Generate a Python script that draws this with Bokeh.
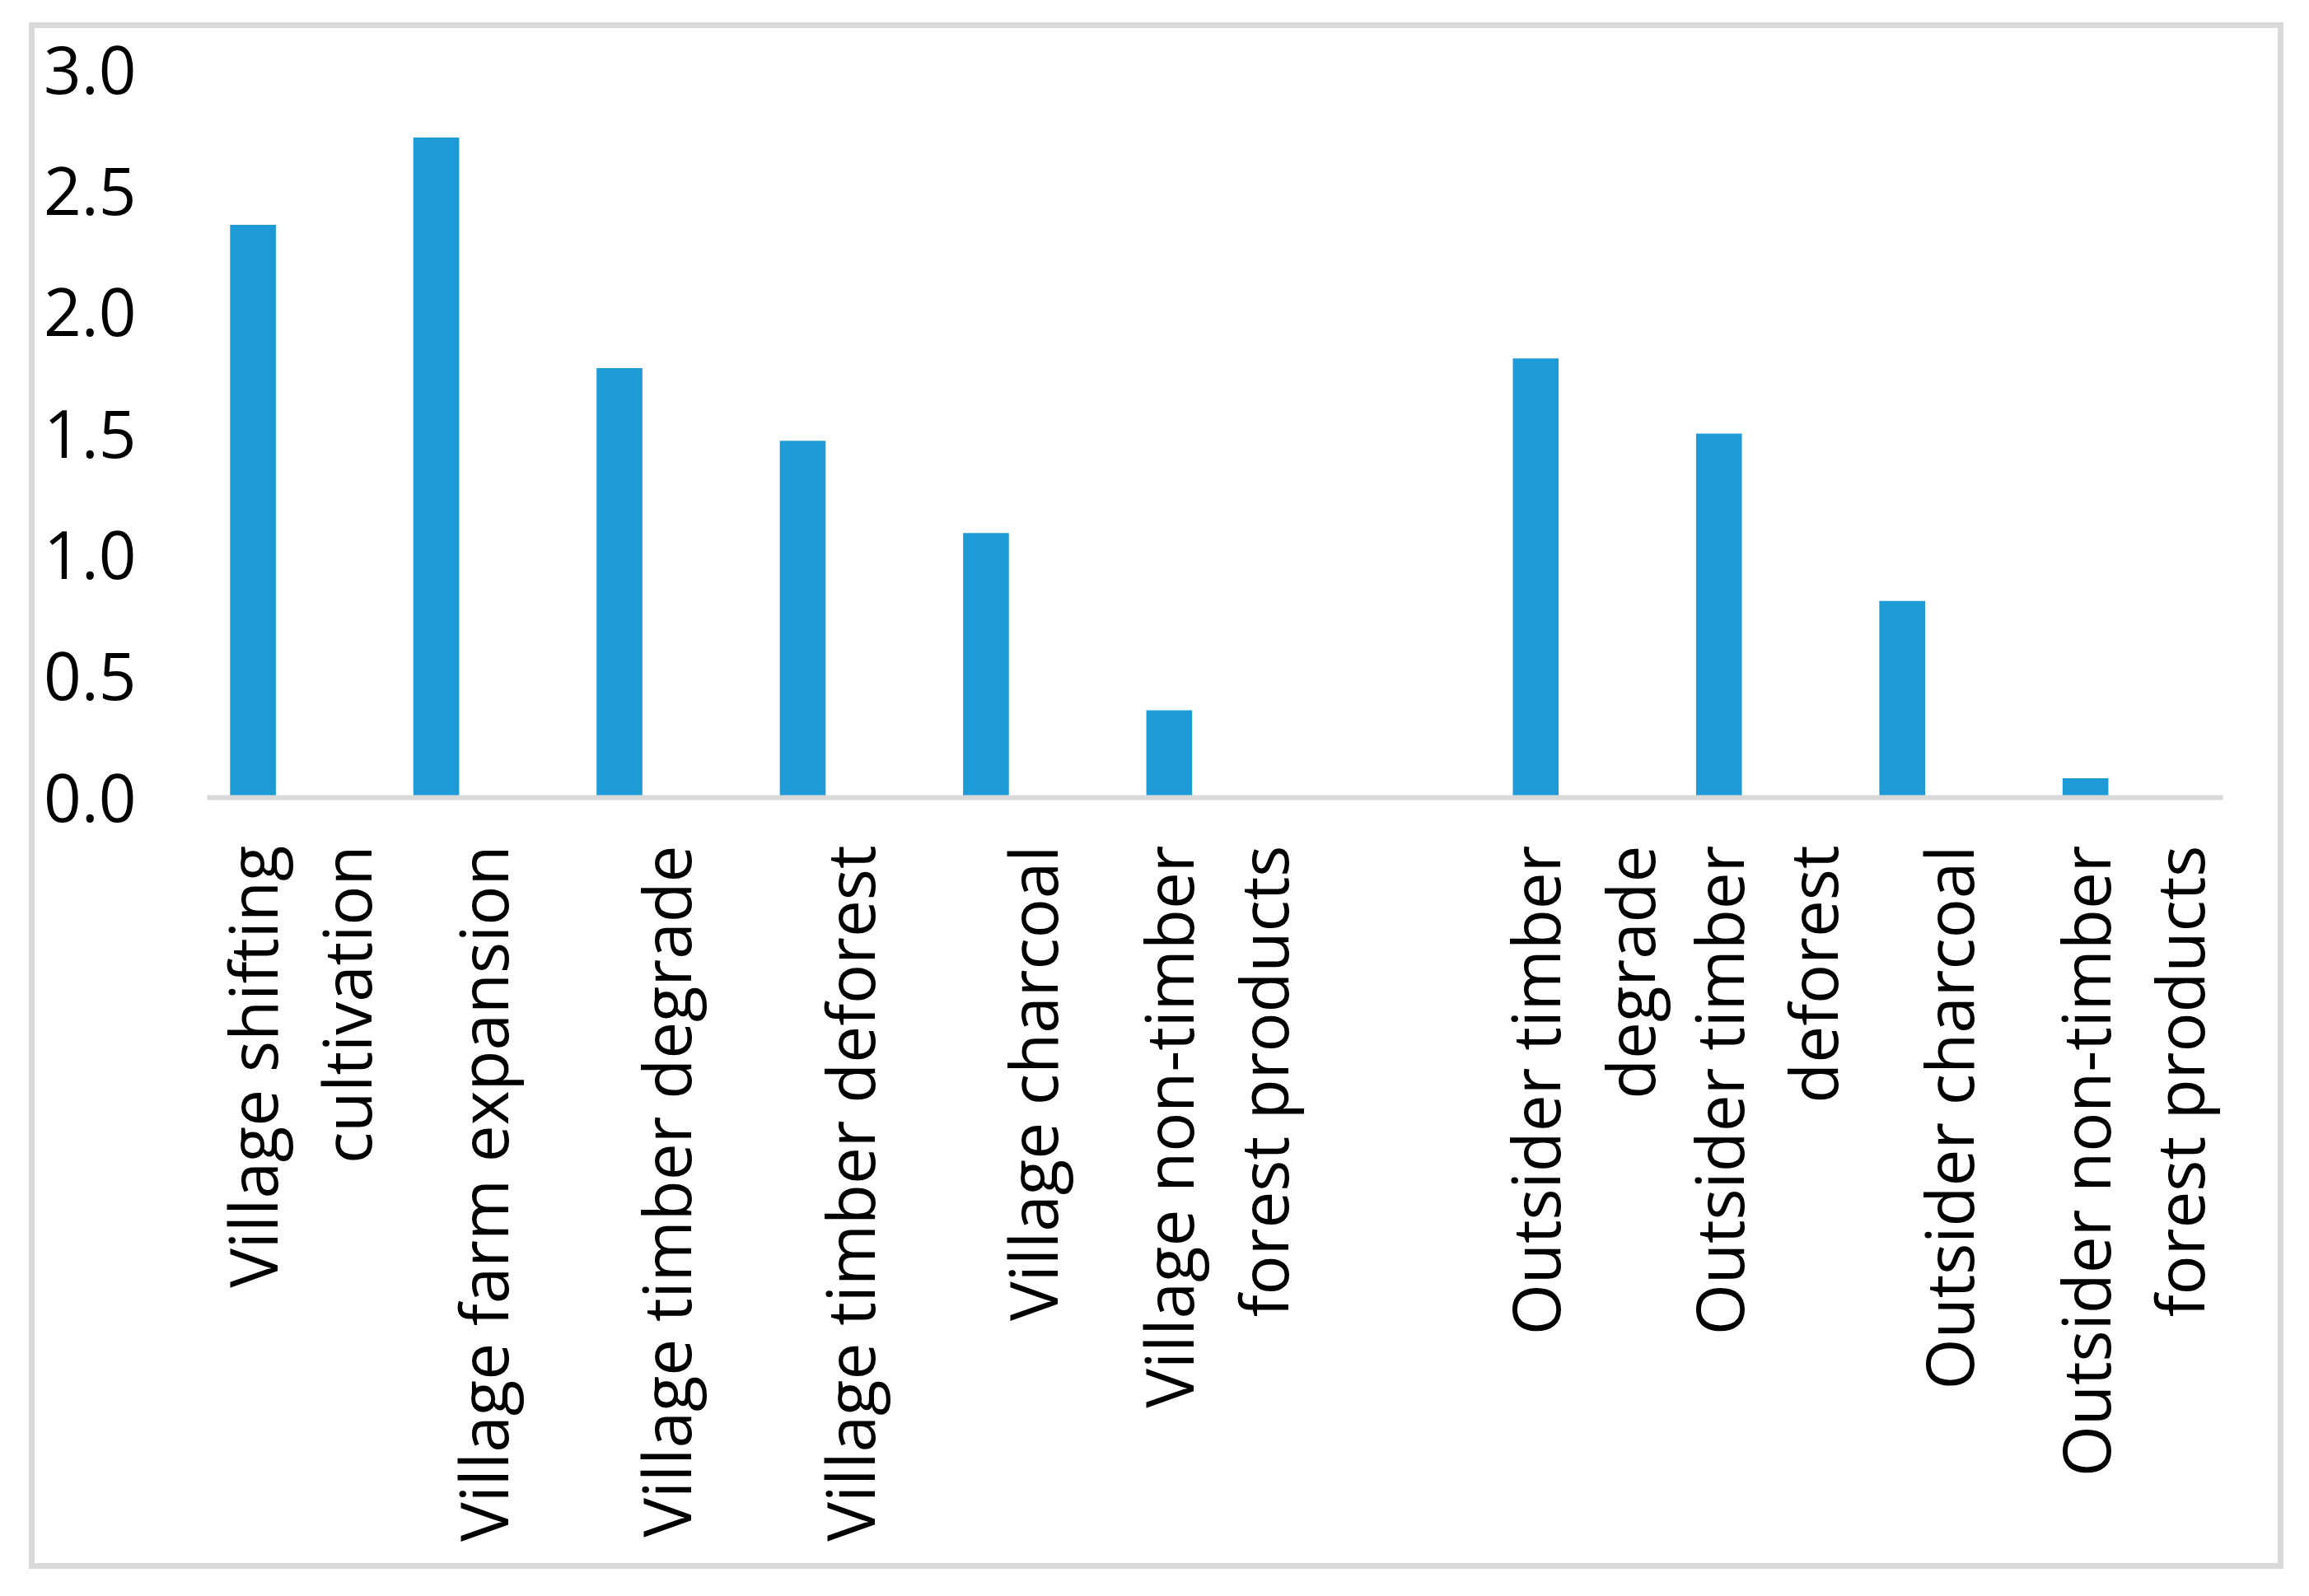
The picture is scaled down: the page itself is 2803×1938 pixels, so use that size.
import math
from bokeh.plotting import figure
from bokeh.models import (ColumnDataSource, FixedTicker,
                          NumeralTickFormatter, Range1d, FactorRange)
from bokeh.transform import dodge
from bokeh.embed import file_html
from bokeh.resources import INLINE

# ---- data ----
categories = [
    "Village shifting\ncultivation",
    "Village farm expansion",
    "Village timber degrade",
    "Village timber deforest",
    "Village charcoal",
    "Village non-timber\nforest products",
    " ",
    "Outsider timber\ndegrade",
    "Outsider timber\ndeforest",
    "Outsider charcoal",
    "Outsider non-timber\nforest products",
]
values = [2.36, 2.72, 1.77, 1.47, 1.09, 0.36, float("nan"), 1.81, 1.50, 0.81, 0.08]
y_ticks = [0.0, 0.5, 1.0, 1.5, 2.0, 2.5, 3.0]

BAR_COLOR = "#1E9BD7"
GREY = "#D9D9D9"
FONT = "Open Sans"

src = ColumnDataSource(dict(cat=categories, val=values))

p = figure(
    width=2737, height=1878,
    x_range=FactorRange(factors=categories),
    y_range=Range1d(0, 3.0),
    output_backend="svg", toolbar_location=None,
    min_border_left=216, min_border_right=74,
    min_border_top=57, min_border_bottom=937,
)
# outer chart border (Excel chart-area frame), drawn as an inset band
p.styles = {"position": "relative", "left": "35px", "top": "27px",
            "background-color": "white",
            "box-shadow": f"inset 0 0 0 7px {GREY}"}
p.outline_line_color = None
p.xgrid.visible = False
p.ygrid.visible = False
p.background_fill_color = None
p.border_fill_color = None

p.vbar(x=dodge("cat", -0.25, range=p.x_range), top="val", width=0.25,
       bottom=0, source=src, fill_color=BAR_COLOR, line_color=None)

# y axis
ya = p.yaxis[0]
ya.ticker = FixedTicker(ticks=y_ticks)
ya.formatter = NumeralTickFormatter(format="0.0")
ya.axis_line_color = None
ya.major_tick_line_color = None
ya.minor_tick_line_color = None
ya.major_tick_out = 0
ya.major_tick_in = 0
ya.major_label_standoff = 86
ya.major_label_text_font = FONT
ya.major_label_text_font_size = "80px"
ya.major_label_text_color = "black"

# x axis
xa = p.xaxis[0]
xa.axis_line_color = GREY
xa.axis_line_width = 6
xa.major_tick_line_color = None
xa.minor_tick_line_color = None
xa.major_tick_out = 0
xa.major_tick_in = 0
xa.major_label_standoff = 58
xa.major_label_orientation = math.pi / 2
xa.major_label_text_font = FONT
xa.major_label_text_font_size = "80px"
xa.major_label_text_color = "black"
xa.major_label_text_line_height = 1.05

open("out.html", "w").write(file_html(p, INLINE))
